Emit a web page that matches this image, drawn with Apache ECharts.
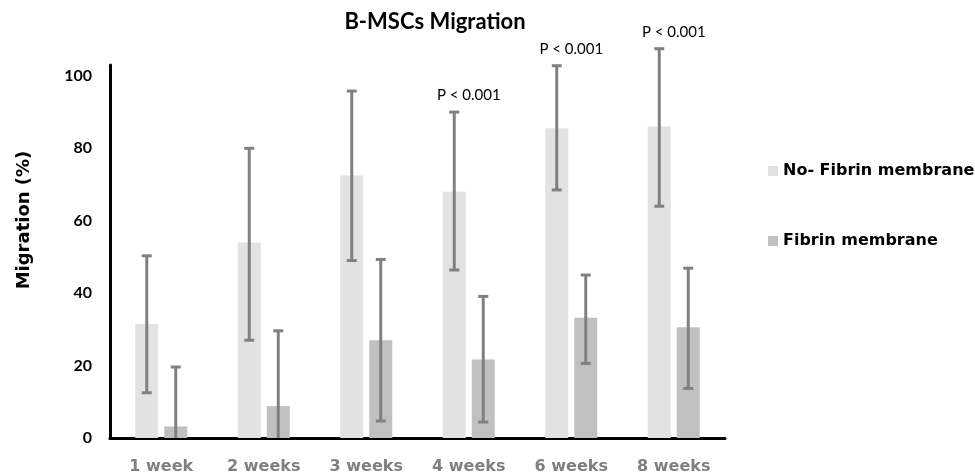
<!DOCTYPE html>
<html>
<head>
<meta charset="utf-8">
<script src="https://cdn.jsdelivr.net/npm/echarts@6/dist/echarts.min.js"></script>
<style>html,body{margin:0;padding:0;background:#fff}#c{width:975px;height:475px}</style>
</head>
<body>
<div id="c"></div>
<script>
const categories = ['1 week', '2 weeks', '3 weeks', '4 weeks', '6 weeks', '8 weeks'];
const noFibrin = [31.5, 54, 72.5, 68, 85.5, 86];
const noFibrinErrHigh = [50.3, 80, 95.8, 90, 102.8, 107.5];
const noFibrinErrLow = [12.5, 27, 49, 46.4, 68.5, 64];
const fibrin = [3.2, 8.8, 27, 21.7, 33.2, 30.6];
const fibrinErrHigh = [19.6, 29.6, 49.3, 39.1, 45, 46.9];
const fibrinErrLow = [-13, -12, 4.7, 4.4, 20.6, 13.7];
const pLabels = ['', '', '', 'P < 0.001', 'P < 0.001', 'P < 0.001'];
const yTicks = [0, 20, 40, 60, 80, 100];
const yName = 'Migration (%)';

const BAR_W = 23, GAP = 6;
const OFFSET = (BAR_W + GAP) / 2;
const ERR_COLOR = '#808080';

function errData(hi, lo) { return categories.map((c, i) => [i, hi[i], lo[i]]); }

function errRender(sign) {
  return function (params, api) {
    const idx = api.value(0), hi = api.value(1), lo = api.value(2);
    const x = api.coord([idx, 0])[0] + sign * OFFSET;
    const yHi = api.coord([idx, hi])[1];
    const yLo = api.coord([idx, Math.max(lo, 0)])[1];
    const style = { stroke: ERR_COLOR, lineWidth: 3 };
    const children = [
      { type: 'line', shape: { x1: x, y1: yHi, x2: x, y2: yLo }, style },
      { type: 'line', shape: { x1: x - 5, y1: yHi, x2: x + 5, y2: yHi }, style }
    ];
    if (lo >= 0) children.push({ type: 'line', shape: { x1: x - 5, y1: yLo, x2: x + 5, y2: yLo }, style });
    return { type: 'group', children };
  };
}

const chart = echarts.init(document.getElementById('c'), null, { renderer: 'canvas' });
chart.setOption({
  animation: false,
  backgroundColor: '#fff',
  title: {
    text: 'B-MSCs Migration', left: 430, top: 6, textAlign: 'center',
    textStyle: { fontFamily: 'Lato', fontWeight: 'bold', fontSize: 22, color: '#000' }
  },
  legend: {
    orient: 'vertical', left: 763, top: 158, itemGap: 54,
    icon: 'rect', itemWidth: 10, itemHeight: 10,
    textStyle: { fontFamily: 'DejaVu Sans', fontWeight: 'bold', fontSize: 16, color: '#000' },
    data: ['No- Fibrin membrane', 'Fibrin membrane']
  },
  graphic: [{
    type: 'text', x: 24, y: 220, rotation: Math.PI / 2,
    style: { text: yName, fill: '#000', font: 'bold 18px "DejaVu Sans"', align: 'center', verticalAlign: 'middle' }
  }],
  grid: { left: 110, right: 250, top: 65, bottom: 36 },
  xAxis: {
    type: 'category', data: categories,
    axisLine: { lineStyle: { color: '#000', width: 3 } },
    axisTick: { show: false },
    axisLabel: { margin: 21, fontFamily: 'DejaVu Sans', fontWeight: 'bold', fontSize: 16, color: '#7f7f7f' }
  },
  yAxis: {
    type: 'value', min: 0, max: 103, interval: 20,
    axisLine: { show: true, lineStyle: { color: '#000', width: 3 } },
    axisTick: { show: false },
    splitLine: { show: false },
    axisLabel: {
      margin: 18, fontFamily: 'Lato', fontWeight: 'bold', fontSize: 16, color: '#000',
      padding: [0, 0, 6, 0],
      formatter: v => (yTicks.indexOf(v) >= 0 ? String(v) : '')
    }
  },
  series: [
    { name: 'No- Fibrin membrane', type: 'bar', data: noFibrin, barWidth: BAR_W, barGap: (GAP / BAR_W * 100) + '%',
      itemStyle: { color: '#e2e2e2' } },
    { name: 'Fibrin membrane', type: 'bar', data: fibrin, barWidth: BAR_W,
      itemStyle: { color: '#c0c0c0' } },
    { type: 'custom', clip: false, z: 5, data: errData(noFibrinErrHigh, noFibrinErrLow),
      encode: { x: 0, y: [1, 2] }, renderItem: errRender(-1) },
    { type: 'custom', clip: false, z: 5, data: errData(fibrinErrHigh, fibrinErrLow),
      encode: { x: 0, y: [1, 2] }, renderItem: errRender(1) },
    { type: 'custom', clip: false, z: 6,
      data: categories.map((c, i) => [i, noFibrinErrHigh[i], pLabels[i]]),
      encode: { x: 0, y: 1 },
      renderItem: function (params, api) {
        const i = api.value(0);
        const txt = pLabels[i];
        if (!txt) return null;
        const p = api.coord([i, api.value(1)]);
        return { type: 'text', x: p[0], y: p[1] - 17,
          style: { text: txt, fill: '#000', font: '15px Lato', align: 'center', verticalAlign: 'middle' } };
      } }
  ]
});
</script>
</body>
</html>
